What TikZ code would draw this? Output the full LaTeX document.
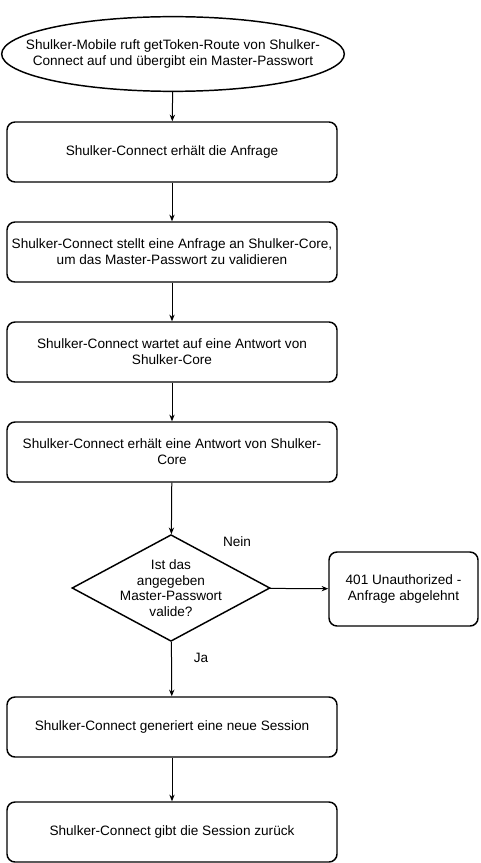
\documentclass[tikz,border=0pt]{standalone}
\usepackage{fontspec}
\setmainfont{Liberation Sans}
\usetikzlibrary{shapes.geometric,arrows.meta}

\begin{document}
\begin{tikzpicture}[x=0.75pt,y=-0.75pt,>={Stealth[length=5pt,width=4pt]},
  every node/.style={font=\fontsize{10.2}{11.8}\selectfont, align=center},
  stepbox/.style={draw, line width=1.1pt, rounded corners=6pt, minimum width=247.5pt, minimum height=45pt, inner xsep=0pt, inner ysep=2pt},
  flow/.style={->, line width=0.75pt}]
\useasboundingbox (0,0) rectangle (480,863);

% Start
\node[draw, ellipse, line width=1.1pt, minimum width=257pt, minimum height=56pt, inner xsep=-30pt, inner ysep=0pt] (start) at (173,54)
  {Shulker-Mobile ruft getToken-Route von Shulker-\\Connect auf und übergibt ein Master-Passwort};

% Steps
\node[stepbox] (receive) at (172,152) {Shulker-Connect erhält die Anfrage};
\node[stepbox] (request) at (172,252) {Shulker-Connect stellt eine Anfrage an Shulker-Core,\\um das Master-Passwort zu validieren};
\node[stepbox] (wait) at (172,352) {Shulker-Connect wartet auf eine Antwort von\\Shulker-Core};
\node[stepbox] (answer) at (172,452) {Shulker-Connect erhält eine Antwort von Shulker-\\Core};

% Decision
\node[draw, diamond, aspect=1.85, line width=1.1pt, minimum width=148.5pt, minimum height=80pt, inner xsep=0pt, inner ysep=-8pt] (check) at (171,588)
  {Ist das\\angegeben\\Master-Passwort\\valide?};
\node[stepbox, minimum width=111.75pt, minimum height=55.5pt] (reject) at (403.5,589)
  {401 Unauthorized -\\Anfrage abgelehnt};

\node[stepbox] (session) at (172,727) {Shulker-Connect generiert eine neue Session};
\node[stepbox] (back) at (172,832) {Shulker-Connect gibt die Session zurück};

% Labels
\node (nein) at (237,542) {Nein};
\node (ja) at (201,658) {Ja};

% Arrows
\draw[flow] (start) -- (receive);
\draw[flow] (receive) -- (request);
\draw[flow] (request) -- (wait);
\draw[flow] (wait) -- (answer);
\draw[flow] (answer) -- (check);
\draw[flow] (check) -- (reject);
\draw[flow] (check) -- (session);
\draw[flow] (session) -- (back);
\end{tikzpicture}
\end{document}
